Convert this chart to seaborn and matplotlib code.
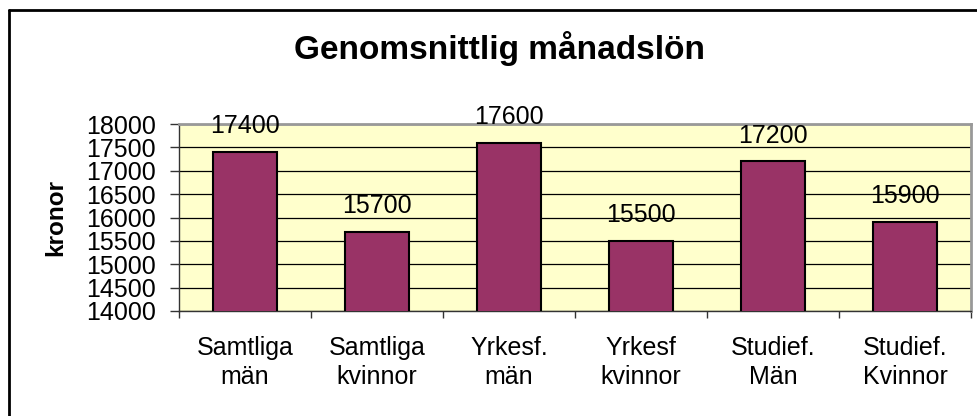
import matplotlib
matplotlib.use("Agg")
import matplotlib.pyplot as plt
import seaborn as sns
from matplotlib.lines import Line2D

# Data
categories = ["Samtliga\nmän", "Samtliga\nkvinnor", "Yrkesf.\nmän",
              "Yrkesf\nkvinnor", "Studief.\nMän", "Studief.\nKvinnor"]
salaries = [17400, 15700, 17600, 15500, 17200, 15900]
y_ticks = [14000, 14500, 15000, 15500, 16000, 16500, 17000, 17500, 18000]

sns.set_style("white")
plt.rcParams["font.family"] = ["Liberation Sans", "DejaVu Sans"]
plt.rcParams["text.color"] = "black"
plt.rcParams["xtick.color"] = "black"
plt.rcParams["ytick.color"] = "black"

fig = plt.figure(figsize=(9.78, 4.16), dpi=100)
ax = fig.add_axes([179 / 978, 1 - 311 / 416, (971 - 179) / 978, (311 - 124) / 416])

sns.barplot(x=categories, y=salaries, color="#993366", saturation=1,
            width=0.49, edgecolor="black", linewidth=1.5, ax=ax, zorder=3)

ax.set_facecolor("#FFFFCC")
ax.set_ylim(14000, 18000)
ax.set_xlim(-0.5, len(categories) - 0.5)
ax.set_yticks(y_ticks)
ax.yaxis.grid(True, color="black", linewidth=0.9, zorder=0)
ax.set_axisbelow(True)

# Excel-style ticks between categories
ax.set_xticks([i - 0.5 for i in range(len(categories) + 1)], minor=True)
ax.tick_params(axis="x", which="major", length=0, pad=18, labelsize=18)
ax.tick_params(axis="x", which="minor", length=5, width=1, direction="out",
               color="#333333", bottom=True)
ax.tick_params(axis="y", which="major", length=6.5, width=1, direction="out",
               pad=10, labelsize=18, left=True, color="#333333")
for lbl in ax.get_xticklabels():
    lbl.set_linespacing(1.25)

for side in ["left", "bottom"]:
    ax.spines[side].set_color("#333333")
    ax.spines[side].set_linewidth(1)
for side in ["top", "right"]:
    ax.spines[side].set_color("#999999")
    ax.spines[side].set_linewidth(2)

for cont in ax.containers:
    ax.bar_label(cont, labels=[str(v) for v in salaries], padding=10,
                 fontsize=18, clip_on=False)

ax.set_xlabel("")
ax.set_ylabel("")

fig.text(0.511, 1 - 48 / 416, "Genomsnittlig månadslön", ha="center",
         va="center", fontsize=24, fontweight="bold")
fig.text(56 / 978, 1 - 218 / 416, "kronor", rotation=90, ha="center",
         va="center", fontsize=17.5, fontweight="bold")

# Chart-area border (top and left visible in the reference)
fig.add_artist(Line2D([9 / 978, 1.0], [1 - 10 / 416, 1 - 10 / 416],
                      transform=fig.transFigure, color="black", linewidth=2))
fig.add_artist(Line2D([9 / 978, 9 / 978], [0.0, 1 - 10 / 416],
                      transform=fig.transFigure, color="black", linewidth=2))

fig.savefig("out.png", dpi=100)
